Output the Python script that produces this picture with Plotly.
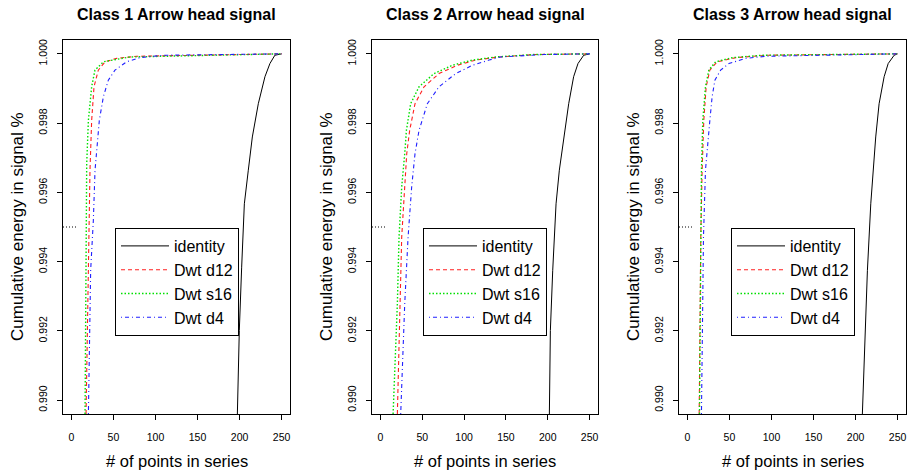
import plotly.graph_objects as go

W, H = 907, 475

titles = ["Class 1 Arrow head signal", "Class 2 Arrow head signal", "Class 3 Arrow head signal"]
series_names = ["identity", "Dwt d12", "Dwt s16", "Dwt d4"]
x_ticks = [0, 50, 100, 150, 200, 250]
y_ticks = [0.990, 0.992, 0.994, 0.996, 0.998, 1.000]
y_ticklabels = ["0.990", "0.992", "0.994", "0.996", "0.998", "1.000"]

# ---- Class 1 ----
c1_identity_x = [197.4, 199.7, 202.5, 205.7, 210.4, 215.2, 222.3, 230.2, 236.1, 242.0, 250]
c1_identity_y = [0.9896, 0.99201, 0.99384, 0.99567, 0.99664, 0.99760, 0.99856, 0.99934, 0.99972, 0.99996, 1.0]
c1_d12_x = [17.4, 20.2, 22.1, 24.1, 26.9, 32.0, 40.0, 53.8, 77.5, 250]
c1_d12_y = [0.9896, 0.99375, 0.99664, 0.99808, 0.99905, 0.99953, 0.99977, 0.99987, 0.99993, 1.0]
c1_s16_x = [16.2, 17.4, 18.2, 20.2, 24.1, 28.0, 38.0, 69.6, 250]
c1_s16_y = [0.9896, 0.99375, 0.99683, 0.99808, 0.99905, 0.99953, 0.99977, 0.99991, 1.0]
c1_d4_x = [20.2, 22.9, 26.1, 28.1, 33.2, 38.0, 43.9, 51.8, 65.6, 81.5, 109, 250]
c1_d4_y = [0.9896, 0.99375, 0.99519, 0.99664, 0.99808, 0.99876, 0.99924, 0.99953, 0.99977, 0.99989, 0.99996, 1.0]

# ---- Class 2 ----
c2_identity_x = [201.9, 203.1, 205.9, 209.9, 213.8, 219.0, 225.0, 230.9, 236.1, 242.9, 250]
c2_identity_y = [0.9896, 0.99201, 0.99375, 0.99567, 0.99664, 0.99760, 0.99856, 0.99934, 0.99972, 0.99996, 1.0]
c2_d12_x = [20.3, 21.5, 23.1, 25.5, 29.1, 31.5, 35.0, 41.4, 52.2, 70.1, 92, 113.9, 141.8, 185, 250]
c2_d12_y = [0.9896, 0.99086, 0.99278, 0.99471, 0.99616, 0.99712, 0.99779, 0.99856, 0.99905, 0.99943, 0.99967, 0.99982, 0.99991, 0.99998, 1.0]
c2_s16_x = [15.2, 17.5, 20.3, 22.3, 25.5, 29.1, 31.1, 36.2, 46.2, 64.1, 86, 110, 137.7, 183, 250]
c2_s16_y = [0.9896, 0.99086, 0.99278, 0.99471, 0.99616, 0.99712, 0.99779, 0.99856, 0.99905, 0.99943, 0.99967, 0.99982, 0.99991, 0.99998, 1.0]
c2_d4_x = [24.3, 26.3, 29.1, 33.1, 37.4, 41.4, 46.2, 56.1, 70.1, 90, 110, 129.8, 143.7, 195, 250]
c2_d4_y = [0.9896, 0.99086, 0.99278, 0.99471, 0.99616, 0.99712, 0.99779, 0.99856, 0.99905, 0.99943, 0.99967, 0.99982, 0.99991, 0.99998, 1.0]

# ---- Class 3 ----
c3_identity_x = [208.1, 210.9, 214.1, 218.1, 220.8, 224.0, 228.0, 234.0, 238.8, 245.9, 250]
c3_identity_y = [0.9896, 0.99182, 0.99375, 0.99567, 0.99664, 0.99760, 0.99856, 0.99934, 0.99972, 0.99996, 1.0]
c3_d12_x = [14.0, 14.7, 15.9, 17.5, 19.5, 22.3, 26.7, 35.4, 57.4, 95, 250]
c3_d12_y = [0.9896, 0.99182, 0.99471, 0.99664, 0.99808, 0.99905, 0.99953, 0.99977, 0.99989, 0.99996, 1.0]
c3_s16_x = [14.4, 15.1, 15.5, 16.7, 18.3, 21.5, 25.5, 33.5, 53.4, 89.2, 250]
c3_s16_y = [0.9896, 0.99182, 0.99471, 0.99664, 0.99808, 0.99905, 0.99953, 0.99977, 0.99989, 0.99996, 1.0]
c3_d4_x = [16.7, 17.5, 19.1, 21.5, 24.6, 26.7, 29.4, 32.7, 39.5, 49.4, 69.4, 93.3, 250]
c3_d4_y = [0.9896, 0.99182, 0.99471, 0.99664, 0.99760, 0.99808, 0.99876, 0.99924, 0.99953, 0.99972, 0.99987, 0.99993, 1.0]

# reference segment at 0.995
ref_x = [-10, 7.5]
ref_y = [0.995, 0.995]

panels = [
    [(c1_identity_x, c1_identity_y), (c1_d12_x, c1_d12_y), (c1_s16_x, c1_s16_y), (c1_d4_x, c1_d4_y)],
    [(c2_identity_x, c2_identity_y), (c2_d12_x, c2_d12_y), (c2_s16_x, c2_s16_y), (c2_d4_x, c2_d4_y)],
    [(c3_identity_x, c3_identity_y), (c3_d12_x, c3_d12_y), (c3_s16_x, c3_s16_y), (c3_d4_x, c3_d4_y)],
]

styles = [
    dict(color="black", width=1, dash="solid"),
    dict(color="#ff2020", width=1.1, dash="4px,3px"),
    dict(color="#00e000", width=1.4, dash="1.5px,2px"),
    dict(color="#2020ff", width=1.1, dash="1px,3px,4px,3px"),
]

FONT = "Liberation Sans, Arial, sans-serif"
x_dom_px = [(63, 290), (372, 598), (679, 906)]
y_dom_px = (40, 414)
legend_left_px = [115, 423, 731]
legend_names = ["legend", "legend2", "legend3"]

fig = go.Figure()
layout = dict(
    width=W, height=H,
    margin=dict(l=0, r=0, t=0, b=0),
    paper_bgcolor="white", plot_bgcolor="white",
    font=dict(family=FONT, color="black"),
    annotations=[],
)

for i, series in enumerate(panels):
    sfx = "" if i == 0 else str(i + 1)
    xa, ya = "x" + sfx, "y" + sfx
    for (xs, ys), name, st in zip(series, series_names, styles):
        fig.add_trace(go.Scatter(x=xs, y=ys, mode="lines", name=name, line=st,
                                 xaxis=xa, yaxis=ya, legend=legend_names[i], showlegend=True))
    fig.add_trace(go.Scatter(x=ref_x, y=ref_y, mode="lines", line=dict(color="black", width=1, dash="1px,2px"),
                             xaxis=xa, yaxis=ya, showlegend=False, hoverinfo="skip"))
    x0, x1 = x_dom_px[i]
    layout["xaxis" + sfx] = dict(
        domain=[x0 / W, x1 / W], anchor=ya, range=[-10, 260],
        tickvals=x_ticks, ticks="outside", ticklen=5, tickcolor="black",
        showline=True, mirror=True, linecolor="black", linewidth=1,
        showgrid=False, zeroline=False, tickfont=dict(size=10.5, color="black"),
        ticklabelstandoff=8,
    )
    layout["yaxis" + sfx] = dict(
        domain=[1 - y_dom_px[1] / H, 1 - y_dom_px[0] / H], anchor=xa, range=[0.9896, 1.0004],
        tickvals=y_ticks, ticktext=y_ticklabels, tickangle=-90, ticks="outside", ticklen=5, tickcolor="black",
        showline=True, mirror=True, linecolor="black", linewidth=1,
        showgrid=False, zeroline=False, tickfont=dict(size=10.5, color="black"),
        ticklabelstandoff=6,
    )
    layout[legend_names[i]] = dict(
        x=legend_left_px[i] / W, y=1 - 228 / H, xanchor="left", yanchor="top",
        bordercolor="black", borderwidth=1, bgcolor="white",
        font=dict(size=16, family=FONT, color="black"), itemwidth=48, tracegroupgap=0,
    )
    cx = (x0 + x1) / 2 / W
    layout["annotations"] += [
        dict(text="<b>" + titles[i] + "</b>", x=cx, y=1 - 15 / H, xref="paper", yref="paper",
             showarrow=False, font=dict(size=16, family=FONT, color="black"), xanchor="center", yanchor="middle"),
        dict(text="# of points in series", x=cx, y=1 - 461 / H, xref="paper", yref="paper",
             showarrow=False, font=dict(size=16.5, family=FONT, color="black"), xanchor="center", yanchor="middle"),
        dict(text="Cumulative energy in signal %", x=(x0 - 46) / W, y=1 - 227 / H, xref="paper", yref="paper",
             showarrow=False, textangle=-90, font=dict(size=17, family=FONT, color="black"),
             xanchor="center", yanchor="middle"),
    ]

fig.update_layout(**layout)
fig.write_html("out.html", config={"displayModeBar": False},
               post_script="document.body.style.margin='0';document.body.style.overflow='hidden';")
